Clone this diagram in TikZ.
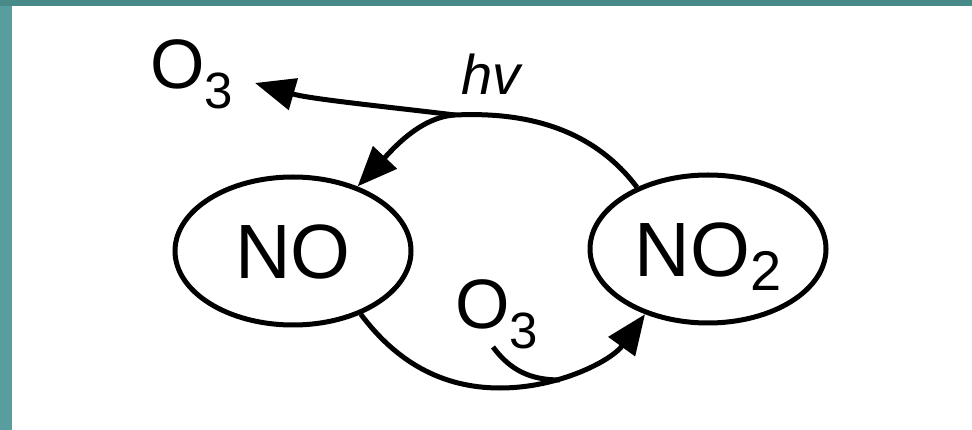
\documentclass[tikz,border=0pt]{standalone}
\usepackage{fontspec}
\setmainfont{Liberation Sans}
\usetikzlibrary{shapes.geometric,arrows.meta}
\definecolor{tealtop}{RGB}{72,138,136}
\definecolor{tealleft}{RGB}{90,157,158}
\begin{document}
\begin{tikzpicture}[x=1pt,y=-1pt,
  species/.style={draw, line width=5pt, ellipse, minimum width=236pt, minimum height=148pt,
    inner sep=0pt, text height=56pt, text depth=0pt, font=\fontsize{77}{77}\selectfont},
  lbl/.style={anchor=base west, inner sep=0pt, font=\fontsize{70}{70}\selectfont},
  flow/.style={line width=5pt},
  tip/.style={-{Triangle[length=40pt,width=32pt]}}]
\useasboundingbox (0,0) rectangle (972,430);
\fill[white] (0,0) rectangle (972,430);
\fill[tealleft] (0,0) rectangle (12,430);
\fill[tealtop] (0,0) rectangle (972,6);

\node[species] (no) at (293,251) {NO};
\node[species] (no2) at (708,249) {NO\raisebox{-14pt}{\fontsize{56}{56}\selectfont 2}};
\node[lbl] (o3a) at (150,89) {O\raisebox{-20pt}{\fontsize{51}{51}\selectfont 3}};
\node[lbl] (o3b) at (455,329) {O\raisebox{-20pt}{\fontsize{51}{51}\selectfont 3}};
\node[lbl, font=\fontsize{56}{56}\selectfont\itshape] (hv) at (461,95) {hv};

\coordinate (j) at (455,115);
\coordinate (o3tip) at (255,83);
\coordinate (bot) at (500,388);
\coordinate (o3src) at (493,347);
\coordinate (m) at (560,380);

\draw[flow] (no2.139) .. controls (590,125) and (520,112) .. (j);
\draw[flow,tip] (j) .. controls (420,117) and (392,150) .. (no.45);
\draw[flow,tip] (j) .. controls (380,106) and (310,99) .. (o3tip);
\draw[flow,tip] (no.-43) .. controls (395,360) and (440,388) .. (bot)
  .. controls (560,388) and (612,360) .. (no2.226);
\draw[flow] (o3src) .. controls (510,370) and (530,380) .. (m);
\end{tikzpicture}
\end{document}
